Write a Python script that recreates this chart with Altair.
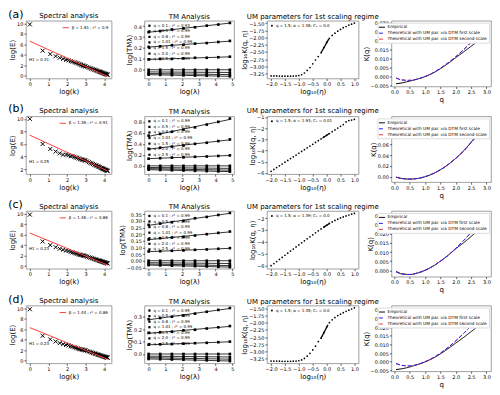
import altair as alt
import pandas as pd

FONT = "DejaVu Sans"

# ---------------- Spectral analysis ----------------
spec_x = [0.00, 0.69, 1.10, 1.39, 1.61, 1.79, 1.95, 2.08, 2.20, 2.30, 2.40, 2.48, 2.56, 2.64, 2.71,
          2.77, 2.83, 2.89, 2.94, 3.00, 3.09, 3.18, 3.26, 3.33, 3.40, 3.47, 3.53, 3.58, 3.64, 3.69,
          3.74, 3.78, 3.83, 3.87, 3.91, 3.95, 3.99, 4.03, 4.06, 4.09, 4.13, 4.16, 4.19]
spec_y_a = [9.8, 4.8, 4.15, 3.75, 3.45, 3.25, 3.05, 2.95, 2.8, 2.7, 2.6, 2.5, 2.4, 2.3, 2.2,
            2.1, 2.0, 1.95, 1.85, 1.8, 1.68, 1.56, 1.45, 1.36, 1.27, 1.18, 1.10, 1.03, 0.95, 0.88,
            0.82, 0.76, 0.70, 0.64, 0.59, 0.53, 0.48, 0.42, 0.38, 0.34, 0.29, 0.25, 0.20]
spec_y_b = [10.0, 6.0, 5.2, 4.8, 4.5, 4.3, 4.3, 4.2, 4.05, 4.1, 3.95, 3.85, 3.8, 3.7, 3.6,
            3.55, 3.5, 3.45, 3.4, 3.35, 3.23, 3.10, 2.99, 2.89, 2.80, 2.70, 2.62, 2.55, 2.47, 2.40,
            2.33, 2.27, 2.20, 2.15, 2.09, 2.04, 1.98, 1.92, 1.88, 1.84, 1.79, 1.75, 1.70]
spec_y_c = [9.8, 4.7, 4.0, 3.6, 3.3, 3.1, 2.95, 2.85, 2.7, 2.6, 2.5, 2.4, 2.3, 2.2, 2.15,
            2.1, 2.05, 2.0, 1.95, 1.9, 1.79, 1.69, 1.60, 1.51, 1.43, 1.35, 1.28, 1.22, 1.15, 1.09,
            1.03, 0.99, 0.93, 0.88, 0.83, 0.79, 0.74, 0.69, 0.65, 0.62, 0.57, 0.54, 0.50]
spec_y_d = [9.8, 4.75, 4.05, 3.65, 3.35, 3.15, 3.0, 2.9, 2.75, 2.65, 2.55, 2.45, 2.35, 2.25, 2.2,
            2.15, 2.1, 2.05, 2.0, 1.95, 1.84, 1.74, 1.65, 1.56, 1.48, 1.40, 1.33, 1.27, 1.20, 1.14,
            1.08, 1.03, 0.98, 0.93, 0.88, 0.84, 0.79, 0.75, 0.71, 0.68, 0.64, 0.61, 0.58]
spec_fit_x = [0.0, 4.19]
spec_fit_y_a = [6.6, -0.1]
spec_fit_y_b = [7.4, 1.7]
spec_fit_y_c = [6.3, 0.2]
spec_fit_y_d = [6.3, 0.27]
spec_labels = ["β = 1.61 ; r² = 0.9", "β = 1.36 ; r² = 0.91", "β = 1.46 ; r² = 0.86", "β = 1.44 ; r² = 0.86"]
h1_labels = ["H1 = 0.31", "H1 = 0.25", "H1 = 0.23", "H1 = 0.23"]
h1_y = [3.0, 3.1, 3.2, 3.2]

# ---------------- TM analysis ----------------
tm_x = [0.0, 0.69, 1.39, 2.08, 2.77, 3.47, 4.16, 4.85]
tm_q = ["0.1", "0.5", "0.8", "1.01", "1.5", "2.0", "2.5"]
tm_r2_a = ["0.93", "0.99", "0.99", "0.99", "0.99", "0.99", "0.99"]
tm_r2_b = ["0.99", "0.99", "0.99", "0.99", "0.99", "0.99", "0.99"]
tm_r2_c = ["0.99", "0.99", "0.99", "0.99", "0.99", "0.99", "0.99"]
tm_r2_d = ["0.95", "0.99", "0.99", "0.99", "0.99", "0.99", "0.99"]
tm_y_a = [
    [-0.045, -0.047, -0.049, -0.051, -0.053, -0.055, -0.058, -0.060],
    [-0.035, -0.036, -0.037, -0.038, -0.040, -0.041, -0.043, -0.045],
    [-0.020, -0.020, -0.021, -0.022, -0.022, -0.023, -0.024, -0.025],
    [0.0, 0.0, 0.0, 0.0, 0.0, 0.0, 0.0, 0.0],
    [0.095, 0.100, 0.100, 0.105, 0.110, 0.110, 0.115, 0.120],
    [0.210, 0.215, 0.225, 0.230, 0.240, 0.245, 0.255, 0.265],
    [0.345, 0.355, 0.370, 0.380, 0.390, 0.405, 0.415, 0.430],
]
tm_y_b = [
    [-0.070, -0.075, -0.080, -0.085, -0.090, -0.095, -0.100, -0.105],
    [-0.050, -0.055, -0.060, -0.060, -0.065, -0.070, -0.075, -0.080],
    [-0.030, -0.030, -0.035, -0.035, -0.040, -0.040, -0.045, -0.045],
    [0.0, 0.0, 0.0, 0.0, 0.0, 0.0, 0.0, 0.0],
    [0.130, 0.140, 0.150, 0.155, 0.165, 0.170, 0.180, 0.190],
    [0.310, 0.330, 0.350, 0.370, 0.400, 0.420, 0.450, 0.480],
    [0.550, 0.580, 0.620, 0.660, 0.700, 0.750, 0.800, 0.860],
]
tm_y_c = [
    [-0.033, -0.035, -0.037, -0.039, -0.041, -0.043, -0.046, -0.048],
    [-0.025, -0.026, -0.028, -0.030, -0.031, -0.033, -0.035, -0.037],
    [-0.015, -0.015, -0.016, -0.017, -0.018, -0.019, -0.020, -0.021],
    [0.0, 0.0, 0.0, 0.0, 0.0, 0.0, 0.0, 0.0],
    [0.070, 0.072, 0.075, 0.078, 0.082, 0.085, 0.090, 0.095],
    [0.160, 0.170, 0.175, 0.180, 0.190, 0.200, 0.210, 0.220],
    [0.270, 0.280, 0.290, 0.300, 0.320, 0.330, 0.345, 0.360],
]
tm_y_d = [
    [-0.040, -0.042, -0.044, -0.046, -0.049, -0.051, -0.054, -0.057],
    [-0.030, -0.031, -0.033, -0.034, -0.036, -0.038, -0.040, -0.042],
    [-0.018, -0.018, -0.019, -0.020, -0.021, -0.022, -0.023, -0.024],
    [0.0, 0.0, 0.0, 0.0, 0.0, 0.0, 0.0, 0.0],
    [0.075, 0.078, 0.080, 0.083, 0.087, 0.090, 0.095, 0.100],
    [0.170, 0.175, 0.180, 0.190, 0.195, 0.205, 0.215, 0.225],
    [0.280, 0.290, 0.300, 0.310, 0.325, 0.340, 0.355, 0.370],
]

# ---------------- UM parameters ----------------
um_x = [-2.0, -1.9, -1.8, -1.7, -1.6, -1.5, -1.4, -1.3, -1.2, -1.1, -1.0, -0.9, -0.8, -0.7, -0.6, -0.5,
        -0.4, -0.3, -0.2, -0.1, 0.0, 0.1, 0.2, 0.3, 0.4, 0.5, 0.6, 0.7, 0.8, 0.9, 1.0]
um_y_a = [-3.33, -3.33, -3.33, -3.335, -3.34, -3.34, -3.34, -3.34, -3.335, -3.33, -3.32, -3.29, -3.23,
          -3.14, -3.04, -2.91, -2.78, -2.66, -2.53, -2.35, -2.17, -2.03, -1.93, -1.85, -1.78, -1.72,
          -1.66, -1.62, -1.57, -1.54, -1.50]
um_y_b = [-5.85, -5.68, -5.52, -5.36, -5.20, -5.04, -4.88, -4.72, -4.56, -4.40, -4.24, -4.08, -3.92,
          -3.76, -3.60, -3.44, -3.28, -3.12, -2.96, -2.80, -2.64, -2.48, -2.32, -2.16, -2.00, -1.84,
          -1.68, -1.45, -1.33, -1.28, -1.22]
um_y_c = [-6.00, -5.82, -5.65, -5.47, -5.30, -5.12, -4.95, -4.77, -4.60, -4.42, -4.25, -4.08, -3.91,
          -3.74, -3.57, -3.40, -3.23, -3.07, -2.91, -2.76, -2.60, -2.45, -2.32, -2.20, -2.09, -1.99,
          -1.90, -1.82, -1.74, -1.67, -1.60]
um_y_d = [-3.34, -3.34, -3.34, -3.345, -3.35, -3.35, -3.35, -3.35, -3.345, -3.34, -3.33, -3.30, -3.25,
          -3.17, -3.07, -2.95, -2.82, -2.66, -2.54, -2.35, -2.15, -2.00, -1.90, -1.82, -1.75, -1.70,
          -1.65, -1.60, -1.56, -1.52, -1.48]
um_fit_x_a = [-0.2, 0.08]
um_fit_y_a = [-2.53, -2.05]
um_fit_x_b = [-0.15, 0.1]
um_fit_y_b = [-2.88, -2.48]
um_fit_x_c = [-0.1, 0.1]
um_fit_y_c = [-2.76, -2.45]
um_fit_x_d = [-0.2, 0.05]
um_fit_y_d = [-2.54, -2.07]
um_labels = ["q = 1.5; α = 1.36; C₁ = 0.0", "q = 1.5; α = 1.93; C₁ = 0.01",
             "q = 1.5; α = 1.39; C₁ = 0.0", "q = 1.5; α = 1.35; C₁ = 0.0"]

# ---------------- K(q) ----------------
k_q = [0.05, 0.25, 0.5, 0.75, 1.0, 1.25, 1.5, 1.75, 2.0, 2.25, 2.5, 2.75, 3.0]
k_emp_a = [-0.0040, -0.0035, -0.0025, -0.0014, 0.0, 0.0019, 0.0044, 0.0073, 0.0105, 0.0136, 0.0168, 0.0201, 0.0235]
k_th_a = [-0.0008, -0.0019, -0.0021, -0.0014, 0.0, 0.0020, 0.0046, 0.0076, 0.0110, 0.0148, 0.0190, 0.0234, 0.0285]
k_emp_b = [-0.0009, -0.0034, -0.0045, -0.0033, 0.0, 0.0054, 0.0129, 0.0224, 0.0340, 0.0478, 0.0640, 0.0840, 0.1070]
k_th_b = [-0.0009, -0.0034, -0.0045, -0.0033, 0.0, 0.0054, 0.0129, 0.0224, 0.0340, 0.0475, 0.0631, 0.0806, 0.1000]
k_emp_c = [-0.0007, -0.0020, -0.0023, -0.0015, 0.0, 0.0022, 0.0050, 0.0082, 0.0118, 0.0150, 0.0185, 0.0222, 0.0260]
k_th_c = [-0.0007, -0.0020, -0.0023, -0.0015, 0.0, 0.0022, 0.0050, 0.0082, 0.0120, 0.0162, 0.0207, 0.0257, 0.0310]
k_emp_d = [-0.0045, -0.0040, -0.0030, -0.0016, 0.0, 0.0020, 0.0046, 0.0076, 0.0108, 0.0140, 0.0174, 0.0209, 0.0245]
k_th_d = [-0.0010, -0.0021, -0.0024, -0.0016, 0.0, 0.0022, 0.0050, 0.0083, 0.0121, 0.0163, 0.0208, 0.0258, 0.0310]
k_series = ["Empirical", "Theoretical with UM par. via DTM first scale",
            "Theoretical with UM par. via DTM second scale"]

row_labels = ["(a)", "(b)", "(c)", "(d)"]

W1, W2, W3, W4 = 86, 90, 92, 100
H = 58
HK = 66
XSHAPE = "M-1,-1L1,1M-1,1L1,-1"


def leg(orient, **kw):
    base = dict(orient=orient, title=None, labelFontSize=4, padding=1, offset=2,
                rowPadding=0.5, labelLimit=300, symbolSize=8, fillColor="white",
                strokeColor="#ccc", labelFont=FONT, labelOffset=2)
    base.update(kw)
    return alt.Legend(**base)


def spectral(i, y, fit_y, ydom, yticks):
    pts = pd.DataFrame({"x": spec_x, "y": y})
    fit = pd.DataFrame({"x": spec_fit_x, "y": fit_y, "lab": [spec_labels[i]] * 2})
    txt = pd.DataFrame({"x": [-0.05], "y": [h1_y[i]], "t": [h1_labels[i]]})
    X = alt.X("x:Q", scale=alt.Scale(domain=[-0.21, 4.4], nice=False),
              axis=alt.Axis(values=[0, 1, 2, 3, 4], format="d", title="log(k)"))
    Y = alt.Y("y:Q", scale=alt.Scale(domain=ydom, nice=False),
              axis=alt.Axis(values=yticks, format="d", title="log(E)"))
    p = alt.Chart(pts).mark_point(shape=XSHAPE, filled=False, color="black",
                                  size=16, strokeWidth=1, opacity=1).encode(x=X, y=Y)
    l = alt.Chart(fit).mark_line(strokeWidth=1).encode(
        x=X, y=Y,
        color=alt.Color("lab:N", scale=alt.Scale(domain=[spec_labels[i]], range=["#ff4040"]),
                        legend=leg("top-right", symbolType="stroke", symbolStrokeWidth=1,
                                   symbolSize=40, strokeColor="transparent")))
    t = alt.Chart(txt).mark_text(align="left", fontSize=4, font=FONT).encode(x=X, y=Y, text="t:N")
    return alt.layer(p, l, t).properties(width=W1, height=H, title="Spectral analysis")


def tm(r2, ys, ydom, yticks, fmt):
    labels = ["q = %s ; r² = %s" % (q, r) for q, r in zip(tm_q, r2)]
    rows = []
    for lab, vals in zip(labels, ys):
        for x, v in zip(tm_x, vals):
            rows.append({"x": x, "y": v, "s": lab})
    df = pd.DataFrame(rows)
    X = alt.X("x:Q", scale=alt.Scale(domain=[-0.25, 5.1], nice=False),
              axis=alt.Axis(values=[0, 1, 2, 3, 4, 5], format="d", title="log(λ)"))
    Y = alt.Y("y:Q", scale=alt.Scale(domain=ydom, nice=False),
              axis=alt.Axis(values=yticks, format=fmt, title="log(TMλ)"))
    C = alt.Color("s:N", scale=alt.Scale(domain=labels, range=["black"] * 7),
                  legend=leg("top-left", symbolType="square", symbolSize=5, rowPadding=1.6,
                             fillColor="transparent", strokeColor="transparent"))
    p = alt.Chart(df).mark_point(shape="square", filled=True, size=7, opacity=1).encode(x=X, y=Y, color=C)
    l = alt.Chart(df).transform_regression("x", "y", groupby=["s"]).mark_line(
        strokeWidth=0.8, color="black").encode(x=X, y=Y, detail="s:N")
    return alt.layer(p, l).properties(width=W2, height=H, title="TM Analysis")


def um(i, y, fx, fy, ydom, yticks, fmt):
    df = pd.DataFrame({"x": um_x, "y": y, "s": [um_labels[i]] * len(um_x)})
    fit = pd.DataFrame({"x": fx, "y": fy})
    X = alt.X("x:Q", scale=alt.Scale(domain=[-2.15, 1.15], nice=False),
              axis=alt.Axis(values=[-2.0, -1.5, -1.0, -0.5, 0.0, 0.5, 1.0], format=".1f", title="log₁₀(η)"))
    Y = alt.Y("y:Q", scale=alt.Scale(domain=ydom, nice=False),
              axis=alt.Axis(values=yticks, format=fmt, title="log₁₀K(q, η)"))
    p = alt.Chart(df).mark_point(shape="circle", filled=True, size=3, opacity=1).encode(
        x=X, y=Y,
        color=alt.Color("s:N", scale=alt.Scale(domain=[um_labels[i]], range=["black"]),
                        legend=leg("top-left", symbolType="circle", symbolSize=4,
                                   strokeColor="transparent", fillColor="transparent")))
    l = alt.Chart(fit).mark_line(color="black", strokeWidth=1.3).encode(x=X, y=Y)
    return alt.layer(p, l).properties(width=W3, height=H,
                                      title="UM parameters for 1st scaling regime")


def kq(emp, th, ydom, yticks, fmt):
    d_emp = pd.DataFrame({"x": k_q, "y": emp, "s": [k_series[0]] * len(k_q)})
    d_t1 = pd.DataFrame({"x": k_q, "y": th, "s": [k_series[1]] * len(k_q)})
    d_t2 = pd.DataFrame({"x": k_q, "y": th, "s": [k_series[2]] * len(k_q)})
    X = alt.X("x:Q", scale=alt.Scale(domain=[-0.1, 3.15], nice=False),
              axis=alt.Axis(values=[0, 0.5, 1, 1.5, 2, 2.5, 3], format=".1f", title="q"))
    Y = alt.Y("y:Q", scale=alt.Scale(domain=ydom, nice=False),
              axis=alt.Axis(values=yticks, format=fmt, title="K(q)"))
    lg = leg("top-right", symbolType="stroke", symbolSize=36, symbolStrokeWidth=1,
             fillColor="white", strokeColor="#ddd", labelFontSize=4.3, rowPadding=0)
    C = alt.Color("s:N", scale=alt.Scale(domain=k_series, range=["black", "#2020ff", "#ff3030"]),
                  legend=lg)
    D = alt.StrokeDash("s:N", scale=alt.Scale(domain=k_series, range=[[1, 0], [4, 2], [4, 2]]),
                       legend=lg)
    layers = [alt.Chart(d).mark_line(strokeWidth=1, interpolate="monotone").encode(
        x=X, y=Y, color=C, strokeDash=D) for d in (d_emp, d_t2, d_t1)]
    return alt.layer(*layers).properties(width=W4, height=HK)


def row(i, panels):
    return alt.hconcat(*panels, spacing=33, bounds="flush").resolve_scale(
        x="independent", y="independent", color="independent", strokeDash="independent"
    ).properties(title=alt.TitleParams(row_labels[i], anchor="start", fontSize=11,
                                       fontWeight="normal", offset=-8, font=FONT))


rows = [
    row(0, [spectral(0, spec_y_a, spec_fit_y_a, [-0.5, 10.5], [0, 2, 4, 6, 8, 10]),
            tm(tm_r2_a, tm_y_a, [-0.08, 0.45], [0.0, 0.1, 0.2, 0.3, 0.4], ".1f"),
            um(0, um_y_a, um_fit_x_a, um_fit_y_a, [-3.42, -1.42],
               [-3.25, -3.0, -2.75, -2.5, -2.25, -2.0, -1.75, -1.5], ".2f"),
            kq(k_emp_a, k_th_a, [-0.0055, 0.031], [-0.005, 0.0, 0.005, 0.01, 0.015, 0.02, 0.025, 0.03], ".3f")]),
    row(1, [spectral(1, spec_y_b, spec_fit_y_b, [1.2, 10.4], [2, 4, 6, 8, 10]),
            tm(tm_r2_b, tm_y_b, [-0.15, 0.9], [0.0, 0.2, 0.4, 0.6, 0.8], ".1f"),
            um(1, um_y_b, um_fit_x_b, um_fit_y_b, [-6.1, -0.95], [-6, -5, -4, -3, -2, -1], "d"),
            kq(k_emp_b, k_th_b, [-0.01, 0.112], [0.0, 0.02, 0.04, 0.06, 0.08, 0.1], ".2f")]),
    row(2, [spectral(2, spec_y_c, spec_fit_y_c, [-0.5, 10.5], [0, 2, 4, 6, 8, 10]),
            tm(tm_r2_c, tm_y_c, [-0.06, 0.375], [-0.05, 0.0, 0.05, 0.1, 0.15, 0.2, 0.25, 0.3, 0.35], ".2f"),
            um(2, um_y_c, um_fit_x_c, um_fit_y_c, [-6.25, -1.4], [-6, -5, -4, -3, -2], "d"),
            kq(k_emp_c, k_th_c, [-0.0035, 0.0325], [0.0, 0.005, 0.01, 0.015, 0.02, 0.025, 0.03], ".3f")]),
    row(3, [spectral(3, spec_y_d, spec_fit_y_d, [-0.5, 10.5], [0, 2, 4, 6, 8, 10]),
            tm(tm_r2_d, tm_y_d, [-0.075, 0.39], [0.0, 0.1, 0.2, 0.3], ".1f"),
            um(3, um_y_d, um_fit_x_d, um_fit_y_d, [-3.42, -1.4],
               [-3.25, -3.0, -2.75, -2.5, -2.25, -2.0, -1.75, -1.5], ".2f"),
            kq(k_emp_d, k_th_d, [-0.0055, 0.0325], [-0.005, 0.0, 0.005, 0.01, 0.015, 0.02, 0.025, 0.03], ".3f")]),
]

chart = alt.vconcat(*rows, spacing=0).resolve_scale(
    x="independent", y="independent", color="independent", strokeDash="independent"
).properties(padding={"left": 0, "top": 0, "right": 0, "bottom": 0}).configure(
    font=FONT
).configure_axis(
    labelFontSize=5, titleFontSize=7, tickSize=2, labelPadding=1, titlePadding=1,
    grid=False, domain=False, tickColor="black", labelColor="black", titleColor="black",
    titleFontWeight="normal", labelFont=FONT, titleFont=FONT, tickWidth=0.6
).configure_view(stroke="#888", strokeWidth=0.8).configure_title(
    fontSize=7, fontWeight="normal", offset=1, font=FONT, color="black"
)

chart.save("out.html", embed_options={"renderer": "svg", "actions": False})
